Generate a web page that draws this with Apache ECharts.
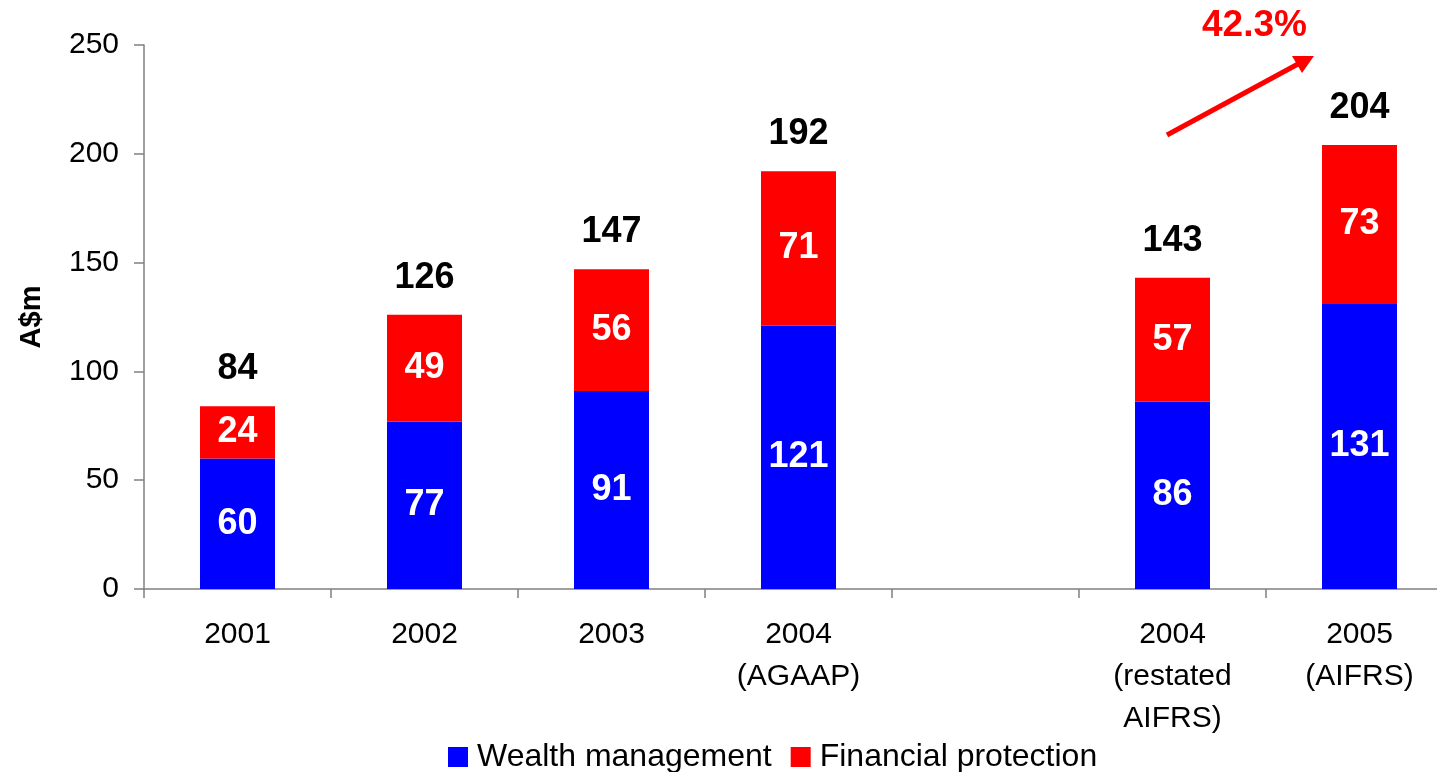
<!DOCTYPE html>
<html>
<head>
<meta charset="utf-8">
<script src="https://cdn.jsdelivr.net/npm/echarts@6/dist/echarts.min.js"></script>
<style>
  html, body { margin: 0; padding: 0; background: #fff; }
  #chart { width: 1437px; height: 772px; }
</style>
</head>
<body>
<div id="chart"></div>
<script>
// Profit by year, A$m, split by business line
const categories = ['2001', '2002', '2003', '2004\n(AGAAP)', '', '2004\n(restated\nAIFRS)', '2005\n(AIFRS)'];
const wealthManagement = [60, 77, 91, 121, null, 86, 131];
const financialProtection = [24, 49, 56, 71, null, 57, 73];
const totals = [84, 126, 147, 192, null, 143, 204];
const yTicks = { min: 0, max: 250, interval: 50 };
const growthLabel = '42.3%';

const FONT = "'Liberation Sans', Arial, sans-serif";

const chart = echarts.init(document.getElementById('chart'));

const valueLabel = {
  show: true,
  position: 'inside',
  color: '#fff',
  fontFamily: FONT,
  fontWeight: 'bold',
  fontSize: 36,
  formatter: p => (p.value == null ? '' : p.value)
};

chart.setOption({
  animation: false,
  backgroundColor: '#fff',
  grid: { left: 144, top: 45, bottom: 183, width: 1309, outerBoundsMode: 'none', containLabel: false },
  legend: {
    data: ['Wealth management', 'Financial protection'],
    left: 443,
    top: 736,
    itemWidth: 20,
    itemHeight: 20,
    itemGap: 19,
    icon: 'rect',
    textStyle: { fontFamily: FONT, fontSize: 32, color: '#000', padding: [0, 0, 0, 4] }
  },
  xAxis: {
    type: 'category',
    data: categories,
    axisLine: { lineStyle: { color: '#808080', width: 1.5 } },
    axisTick: { show: true, length: 9, lineStyle: { color: '#808080', width: 1.5 } },
    axisLabel: { fontFamily: FONT, fontSize: 30, color: '#000', margin: 25, lineHeight: 42, interval: 0 }
  },
  yAxis: {
    type: 'value',
    min: yTicks.min,
    max: yTicks.max,
    interval: yTicks.interval,
    name: 'A$m',
    nameLocation: 'middle',
    nameGap: 98,
    nameRotate: 90,
    nameTextStyle: { fontFamily: FONT, fontWeight: 'bold', fontSize: 29, color: '#000' },
    splitLine: { show: false },
    axisLine: { show: true, lineStyle: { color: '#808080', width: 1.5 } },
    axisTick: { show: true, length: 10, lineStyle: { color: '#808080', width: 1.5 } },
    axisLabel: { fontFamily: FONT, fontSize: 30, color: '#000', margin: 25 }
  },
  series: [
    {
      name: 'Wealth management',
      type: 'bar',
      stack: 'total',
      barWidth: 75,
      itemStyle: { color: '#0000FF' },
      label: valueLabel,
      data: wealthManagement
    },
    {
      name: 'Financial protection',
      type: 'bar',
      stack: 'total',
      barWidth: 75,
      itemStyle: { color: '#FF0000' },
      label: valueLabel,
      data: financialProtection
    },
    {
      // zero-height cap carrying the stack total above each bar
      name: 'Total',
      type: 'bar',
      stack: 'total',
      barWidth: 75,
      itemStyle: { color: 'transparent' },
      label: {
        show: true,
        position: 'top',
        distance: 19,
        color: '#000',
        fontFamily: FONT,
        fontWeight: 'bold',
        fontSize: 36,
        formatter: p => (totals[p.dataIndex] == null ? '' : totals[p.dataIndex])
      },
      data: totals.map(t => (t == null ? null : 0))
    }
  ],
  graphic: [
    {
      type: 'line',
      shape: { x1: 1167, y1: 135, x2: 1298, y2: 64 },
      style: { stroke: '#FF0000', lineWidth: 5 }
    },
    {
      type: 'polygon',
      shape: { points: [[1314, 56], [1302, 73], [1292, 56]] },
      style: { fill: '#FF0000' }
    },
    {
      type: 'text',
      left: 1202,
      top: 7,
      style: { text: growthLabel, fill: '#FF0000', font: "bold 37px 'Liberation Sans', Arial, sans-serif" }
    }
  ]
});
</script>
</body>
</html>
